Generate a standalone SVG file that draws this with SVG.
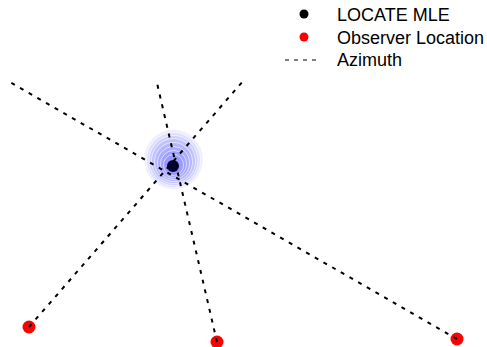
<svg xmlns="http://www.w3.org/2000/svg" width="487" height="347" viewBox="0 0 487 347">
<style>
.az{stroke:#000;stroke-width:2;stroke-dasharray:4 6;fill:none}
.lbl{font-family:"Liberation Sans",Arial,sans-serif;font-size:18px;fill:#000}
.ring{fill:#3a3aff;fill-opacity:0.085;stroke:#ffffff;stroke-width:1;stroke-opacity:0.6}
.obs{fill:#ff0000}
</style>
<rect width="487" height="347" fill="#fff"/>
<g id="contours">
<ellipse class="ring" cx="173.5" cy="159.5" rx="29.5" ry="30"/>
<ellipse class="ring" cx="173.5" cy="160" rx="27" ry="27.5"/>
<ellipse class="ring" cx="173.5" cy="160.5" rx="24.5" ry="25"/>
<ellipse class="ring" cx="173.5" cy="161" rx="22" ry="22.5"/>
<ellipse class="ring" cx="173.5" cy="162" rx="19" ry="19.5"/>
<ellipse class="ring" cx="173.5" cy="163" rx="16" ry="16.5"/>
<ellipse class="ring" cx="173.5" cy="164" rx="13" ry="13.5"/>
<ellipse class="ring" cx="173.5" cy="165" rx="10" ry="10.5"/>
</g>
<g id="obs1"><circle class="obs" cx="29" cy="327" r="6.5"/></g>
<g id="obs2"><circle class="obs" cx="217" cy="342" r="6.5"/></g>
<g id="obs3"><circle class="obs" cx="457" cy="339" r="6.5"/></g>
<g id="mle"><circle cx="173" cy="166" r="6" fill="#000033"/></g>
<g id="connectors">
<line class="az" x1="29" y1="327" x2="244" y2="80"/>
<line class="az" x1="217" y1="342" x2="157" y2="83"/>
<line class="az" x1="457" y1="339" x2="8" y2="81"/>
</g>
<g id="legend">
<circle cx="304" cy="14" r="4.5" fill="#000"/>
<text class="lbl" x="337" y="21">LOCATE MLE</text>
<circle cx="304" cy="37" r="4.5" fill="#ff0000"/>
<text class="lbl" x="337" y="44">Observer Location</text>
<line x1="285" y1="60" x2="319" y2="60" stroke="#000" stroke-width="1.2" stroke-dasharray="4 5"/>
<text class="lbl" x="337" y="66">Azimuth</text>
</g>
</svg>
